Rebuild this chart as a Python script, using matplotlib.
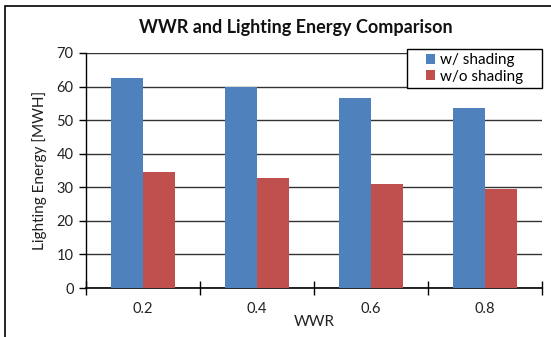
import matplotlib
matplotlib.use("Agg")
import matplotlib.pyplot as plt
import numpy as np
from matplotlib.patches import Rectangle

categories = ["0.2", "0.4", "0.6", "0.8"]
with_shading = [62.6, 59.8, 56.6, 53.7]
without_shading = [34.6, 32.8, 30.9, 29.6]
series_names = ["w/ shading", "w/o shading"]
yticks = [0, 10, 20, 30, 40, 50, 60, 70]

plt.rcParams['font.family'] = ['Lato', 'DejaVu Sans']

W, H = 551, 337
fig = plt.figure(figsize=(W/100, H/100), dpi=100)
fig.patch.set_facecolor("white")
# outer chart frame
fig.patches.append(Rectangle((5/W, -0.05), 1.1, 1 - 6/H + 0.05, transform=fig.transFigure,
                             fill=False, edgecolor="black", linewidth=1.2, zorder=0))

ax = fig.add_axes([86/W, 1 - 288/H, (542 - 86)/W, (288 - 53)/H])
x = np.arange(len(categories))
w = 0.285
ax.bar(x - w/2, with_shading, w, color="#4F81BD", label=series_names[0], zorder=3)
ax.bar(x + w/2, without_shading, w, color="#C0504D", label=series_names[1], zorder=3)

ax.set_xlim(-0.5, len(categories) - 0.5)
ax.set_ylim(0, 70)
ax.set_yticks(yticks)
ax.yaxis.grid(True, color="#333333", linewidth=1.0, zorder=0)
ax.set_axisbelow(True)

ax.set_xticks(np.arange(-0.5, len(categories), 1.0))
ax.set_xticklabels([])
ax.set_xticks(x, minor=True)
ax.set_xticklabels(categories, minor=True)
ax.tick_params(axis="x", which="major", direction="inout", length=10, width=1, color="black")
ax.tick_params(axis="x", which="minor", length=0, pad=10, labelsize=10.5, colors="#222222")
ax.tick_params(axis="y", direction="out", length=5, width=1, labelsize=10.5, colors="#222222", pad=4)
ax.tick_params(axis="y", color="black")

for s in ["top", "right"]:
    ax.spines[s].set_visible(False)
ax.spines["left"].set_color("black")
ax.spines["bottom"].set_color("black")
ax.spines["left"].set_linewidth(1.0)
ax.spines["bottom"].set_linewidth(1.2)

ax.set_xlabel("WWR", fontsize=11, color="#222222", labelpad=-1)
ax.set_ylabel("Lighting Energy [MWH]", fontsize=11, color="#222222", labelpad=7)
fig.text(296/W, 1 - 27/H, "WWR and Lighting Energy Comparison", ha="center", va="center",
         fontsize=13, fontweight="bold", color="#111111")

# legend box (Excel-like, content centered in a fixed box)
lx0, lx1, ly0, ly1 = 407, 542, 49, 88
ax.add_patch(Rectangle((lx0/W, 1 - ly1/H), (lx1 - lx0)/W, (ly1 - ly0)/H, transform=fig.transFigure,
                       facecolor="white", edgecolor="black", linewidth=1.0, zorder=4, clip_on=False))
leg = ax.legend(loc="center", bbox_to_anchor=((lx0 + lx1)/2/W, 1 - (ly0 + ly1)/2/H),
                bbox_transform=fig.transFigure, frameon=False,
                fontsize=11, handlelength=0.6, handleheight=0.6, handletextpad=0.3,
                borderpad=0.0, labelspacing=0.15)
leg.set_zorder(5)

fig.savefig("out.png", dpi=100)
